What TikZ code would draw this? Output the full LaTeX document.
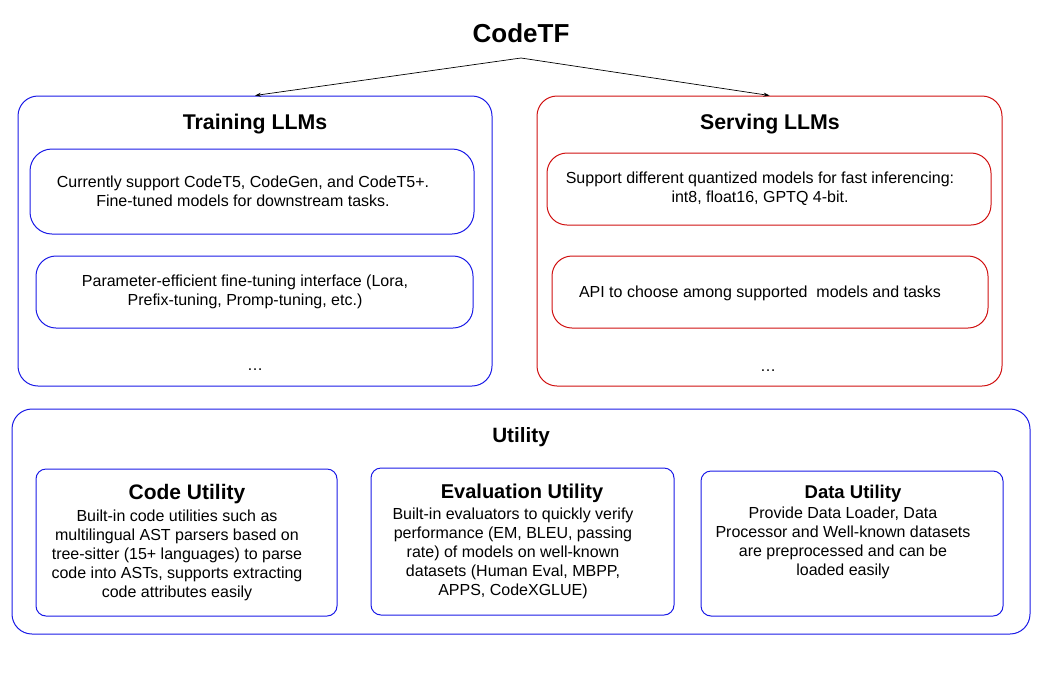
\documentclass[tikz,border=0pt]{standalone}
\usepackage{fontspec}
\setmainfont{Liberation Sans}
\usetikzlibrary{arrows.meta}
\definecolor{boxblue}{HTML}{1A1AE6}
\definecolor{boxred}{HTML}{D01010}
\begin{document}
\begin{tikzpicture}[x=1pt,y=-1pt,
  bodytext/.style={font=\fontsize{16}{19}\selectfont,align=center},
  headtext/.style={font=\fontsize{21.3}{24}\selectfont\bfseries},
  conn/.style={draw,line width=0.7pt,-{Stealth[length=6pt,width=4pt]}}]
\useasboundingbox (0,0) rectangle (1044,697);
% title
\node[font=\fontsize{26}{30}\selectfont\bfseries] (title) at (521,33) {CodeTF};
\coordinate (src) at (521,58);
% Training
\node[draw=boxblue,line width=1pt,rounded corners=20pt,minimum width=474pt,minimum height=290pt] (train) at (255,241) {};
\node[headtext] (trainh) at (255,124) {Training LLMs};
\node[draw=boxblue,line width=1pt,rounded corners=22pt,minimum width=444pt,minimum height=85pt] (t1) at (252,191.5) {};
\node[bodytext] (t1t) at (243,191.5) {Currently support CodeT5, CodeGen, and CodeT5+.\\Fine-tuned models for downstream tasks.};
\node[draw=boxblue,line width=1pt,rounded corners=20pt,minimum width=437pt,minimum height=72pt] (t2) at (254.5,292) {};
\node[bodytext] (t2t) at (245,292) {Parameter-efficient fine-tuning interface (Lora,\\Prefix-tuning, Promp-tuning, etc.)};
\node[bodytext] (tdots) at (255,370) {\dots};
% Serving
\node[draw=boxred,line width=1pt,rounded corners=20pt,minimum width=465pt,minimum height=290pt] (serve) at (769.5,241) {};
\node[headtext] (serveh) at (770,124) {Serving LLMs};
\node[draw=boxred,line width=1pt,rounded corners=20pt,minimum width=444pt,minimum height=72pt] (s1) at (769,189) {};
\node[bodytext] (s1t) at (760,189) {Support different quantized models for fast inferencing:\\int8, float16, GPTQ 4-bit.};
\node[draw=boxred,line width=1pt,rounded corners=20pt,minimum width=436pt,minimum height=72pt] (s2) at (770,292) {};
\node[bodytext] (s2t) at (760,293) {API to choose among supported\ \ models and tasks};
\node[bodytext] (sdots) at (768,371) {\dots};
% arrows
\draw[conn] (src) -- (train.north);
\draw[conn] (src) -- (serve.north);
% Utility
\node[draw=boxblue,line width=1pt,rounded corners=20pt,minimum width=1018pt,minimum height=225pt] (util) at (521,521.5) {};
\node[font=\fontsize{20.7}{24}\selectfont\bfseries] (utilh) at (521,437) {Utility};
\node[draw=boxblue,line width=1pt,rounded corners=10pt,minimum width=301pt,minimum height=147pt] (cu) at (186.5,542.5) {};
\node[font=\fontsize{21}{24}\selectfont\bfseries] (cuh) at (187,494) {Code Utility};
\node[bodytext] (cut) at (177,555) {Built-in code utilities such as\\multilingual AST parsers based on\\tree-sitter (15+ languages) to parse\\code into ASTs, supports extracting\\code attributes easily};
\node[draw=boxblue,line width=1pt,rounded corners=10pt,minimum width=303pt,minimum height=147pt] (eu) at (522.5,541.5) {};
\node[font=\fontsize{20}{24}\selectfont\bfseries] (euh) at (522,493) {Evaluation Utility};
\node[bodytext] (eut) at (513,553) {Built-in evaluators to quickly verify\\performance (EM, BLEU, passing\\rate) of models on well-known\\datasets (Human Eval, MBPP,\\APPS, CodeXGLUE)};
\node[draw=boxblue,line width=1pt,rounded corners=10pt,minimum width=302pt,minimum height=145pt] (du) at (852,543.5) {};
\node[font=\fontsize{18.5}{22}\selectfont\bfseries] (duh) at (853,494) {Data Utility};
\node[bodytext] (dut) at (843,542.5) {Provide Data Loader, Data\\Processor and Well-known datasets\\are preprocessed and can be\\loaded easily};
\end{tikzpicture}
\end{document}
